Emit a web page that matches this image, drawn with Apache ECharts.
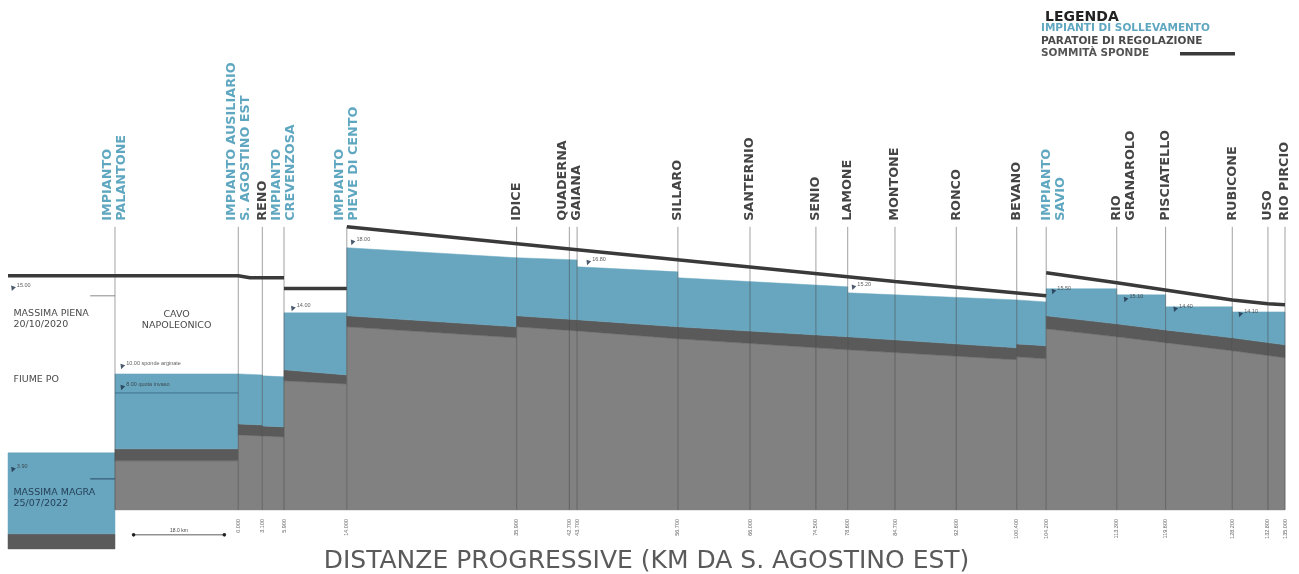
<!DOCTYPE html>
<html>
<head>
<meta charset="utf-8">
<script src="https://cdn.jsdelivr.net/npm/echarts@6/dist/echarts.min.js"></script>
<style>
  html, body { margin: 0; padding: 0; background: #fff; }
  #chart { width: 1299px; height: 574px; }
</style>
</head>
<body>
<div id="chart"></div>
<script>
// tratti del profilo (km progressivi, quote in m)
const segStart    = [-29.7, -15.9, 0, 3.1, 5.9, 14.0, 35.9, 43.7, 56.7, 78.6, 100.4, 104.2, 113.3, 119.6, 128.2];
const segEnd      = [-15.9, 0, 3.1, 5.9, 14.0, 35.9, 43.7, 56.7, 78.6, 100.4, 104.2, 113.3, 119.6, 128.2, 135.0];
const waterStart  = [5.48, 10.29, 10.29, 10.17, 14.01, 17.98, 17.37, 16.82, 16.15, 15.23, 14.80, 15.48, 15.11, 14.38, 14.07];
const waterEnd    = [5.48, 10.29, 10.23, 10.11, 14.01, 17.37, 17.24, 16.51, 15.60, 14.80, 14.68, 15.48, 15.11, 14.38, 14.07];
const bedTopStart = [0.54, 5.72, 7.24, 7.12, 10.54, 13.83, 13.83, 13.59, 13.16, 12.55, 12.12, 13.83, 13.34, 12.97, 12.49];
const bedTopEnd   = [0.54, 5.72, 7.18, 7.06, 10.23, 13.16, 13.59, 13.16, 12.55, 11.88, 12.00, 13.34, 12.97, 12.49, 12.06];
const bedBotStart = [-0.38, 4.99, 6.57, 6.51, 9.87, 13.16, 13.16, 12.91, 12.43, 11.76, 11.33, 13.04, 12.55, 12.19, 11.70];
const bedBotEnd   = [-0.38, 4.99, 6.51, 6.45, 9.68, 12.49, 12.91, 12.43, 11.76, 11.15, 11.21, 12.55, 12.19, 11.70, 11.27];
const GROUND = 2.0;

// sommità sponde (null = interruzione)
const bankKm    = [-29.7, 0, 1.5, 5.9, null, 5.9, 14.0, null, 14.0, 84.7, 84.7, 104.2, null, 104.2, 113.3, 128.2, 132.8, 135.0];
const bankLevel = [16.27, 16.27, 16.15, 16.15, null, 15.5, 15.5, null, 19.26, 15.92, 15.80, 15.05, null, 16.45, 15.84, 14.80, 14.57, 14.50];

// impianti e corsi d'acqua
const stationName = ['IMPIANTO\nPALANTONE', 'IMPIANTO AUSILIARIO\nS. AGOSTINO EST', 'RENO', 'IMPIANTO\nCREVENZOSA', 'IMPIANTO\nPIEVE DI CENTO',
  'IDICE', 'QUADERNA\nGAIANA', '', 'SILLARO', 'SANTERNIO', 'SENIO', 'LAMONE', 'MONTONE', 'RONCO', 'BEVANO',
  'IMPIANTO\nSAVIO', 'RIO\nGRANAROLO', 'PISCIATELLO', 'RUBICONE', 'USO', 'RIO PIRCIO'];
const stationKm = [-15.9, 0, 3.1, 5.9, 14.0, 35.9, 42.7, 43.7, 56.7, 66.0, 74.5, 78.6, 84.7, 92.6, 100.4, 104.2, 113.3, 119.6, 128.2, 132.8, 135.0];
const stationType = ['I', 'I', 'P', 'I', 'I', 'P', 'P', 'P', 'P', 'P', 'P', 'P', 'P', 'P', 'P', 'I', 'P', 'P', 'P', 'P', 'P'];

// quote indicate
const markKm    = [-29.1, -29.1, -15.0, -15.0, 7.0, 14.7, 45.1, 79.3, 105.1, 114.4, 120.8, 129.2];
const markLevel = [15.48, 4.44, 10.72, 9.44, 14.25, 18.28, 17.06, 15.54, 15.29, 14.80, 14.20, 13.89];
const markText  = ['15.00', '3.90', '10.00 sponde arginate', '8.00 quota invaso', '14.00', '18.00', '16.80', '15.20', '15.50', '15.10', '14.40', '14.10'];

// livelli Po e Cavo
const levelFrom  = [-19.1, -19.1, -15.9];
const levelTo    = [-15.9, -15.9, 0];
const levelValue = [15.05, 3.89, 9.13];

const noteText  = ['MASSIMA PIENA\n20/10/2020', 'FIUME PO', 'MASSIMA MAGRA\n25/07/2022', 'CAVO\nNAPOLEONICO'];
const noteKm    = [-29.0, -29.0, -29.0, -7.95];
const noteLevel = [13.65, 9.93, 2.73, 13.59];

const cavoArrow = [-13.5, -1.8];
const cavoArrowLevel = 0.48;
const cavoArrowText = '18.0 km';

const BLUE = '#68a6bf', DARK = '#5a5a5a', GRAY = '#818181', BANK = '#3a3a3a';
const BLUE_TXT = '#5fa7c0', DARK_TXT = '#444';
const LABEL_FONT = 'DejaVu Sans';
const LABEL_LEVEL = 19.62;

const chart = echarts.init(document.getElementById('chart'));

function renderSeg(params, api) {
  const i = params.dataIndex;
  const x0 = segStart[i], x1 = segEnd[i];
  const poly = (a0, a1, b0, b1, color) => ({
    type: 'polygon',
    shape: { points: [api.coord([x0, a0]), api.coord([x1, a1]), api.coord([x1, b1]), api.coord([x0, b0])] },
    style: { fill: color, stroke: color, lineWidth: 0.5 }
  });
  const children = [];
  if (bedBotStart[i] > GROUND) children.push(poly(bedBotStart[i], bedBotEnd[i], GROUND, GROUND, GRAY));
  children.push(poly(bedTopStart[i], bedTopEnd[i], bedBotStart[i], bedBotEnd[i], DARK));
  children.push(poly(waterStart[i], waterEnd[i], bedTopStart[i], bedTopEnd[i], BLUE));
  return { type: 'group', children };
}

function stationSeries(type, name, color) {
  const idx = stationKm.map((k, i) => i).filter(i => stationType[i] === type);
  return {
    name: name,
    type: 'custom',
    z: 3,
    itemStyle: { color: color },
    data: idx.map(i => [stationKm[i], LABEL_LEVEL]),
    renderItem: function (params, api) {
      const s = idx[params.dataIndex];
      const top = api.coord([api.value(0), api.value(1)]);
      const bottom = api.coord([api.value(0), GROUND]);
      // a destra del Savio la prima riga sta sulla linea
      const firstOnLine = stationKm[s] > 100 && stationName[s].indexOf('\n') > 0;
      return {
        type: 'group',
        children: [
          { type: 'line', shape: { x1: top[0], y1: top[1] + 6, x2: bottom[0], y2: bottom[1] },
            style: { stroke: 'rgba(70,70,70,0.5)', lineWidth: 1 } },
          { type: 'text', x: top[0], y: top[1], rotation: Math.PI / 2,
            style: { text: stationName[s], x: 0, y: firstOnLine ? -7 : 0, align: 'left',
              verticalAlign: firstOnLine ? 'top' : 'middle',
              fill: color, fontSize: 12.8, fontWeight: 'bold', fontFamily: LABEL_FONT, lineHeight: 14 } }
        ]
      };
    }
  };
}

chart.setOption({
  animation: false,
  title: {
    text: 'LEGENDA', left: 1040, top: 5,
    textStyle: { fontSize: 14, fontWeight: 'bold', color: '#222', fontFamily: 'DejaVu Sans' }
  },
  graphic: [
    { type: 'text', left: 1041, top: 23, style: { text: 'IMPIANTI DI SOLLEVAMENTO', fill: BLUE_TXT, fontSize: 10.5, fontWeight: 'bold', fontFamily: 'DejaVu Sans' } },
    { type: 'text', left: 1041, top: 35.5, style: { text: 'PARATOIE DI REGOLAZIONE', fill: '#4a4a4a', fontSize: 10.5, fontWeight: 'bold', fontFamily: 'DejaVu Sans' } },
    { type: 'text', left: 1041, top: 48, style: { text: 'SOMMITÀ SPONDE', fill: '#555', fontSize: 10.5, fontWeight: 'bold', fontFamily: 'DejaVu Sans' } },
    { type: 'rect', left: 1180, top: 52, shape: { width: 55, height: 3.5 }, style: { fill: BANK } }
  ],
  grid: { left: 8, right: 14, top: 190, bottom: 60, outerBoundsMode: 'none' },
  xAxis: {
    type: 'value', min: -29.7, max: 135,
    name: 'DISTANZE PROGRESSIVE (KM DA S. AGOSTINO EST)',
    nameLocation: 'middle', nameGap: 35,
    nameTextStyle: { fontSize: 25, color: '#5a5a5a', fontFamily: 'DejaVu Sans' },
    axisLine: { show: false }, axisTick: { show: false }, splitLine: { show: false },
    axisLabel: {
      customValues: stationKm.filter(k => k >= 0),
      rotate: 90, margin: 5, fontSize: 5.5, color: '#666',
      formatter: v => v.toFixed(3)
    }
  },
  yAxis: { type: 'value', min: 1.75, max: 21.5, show: false },
  series: [
    {
      type: 'custom', name: 'profilo', z: 1, clip: false,
      data: segStart.map((s, i) => [s, segEnd[i], waterStart[i]]),
      encode: { x: [0, 1], y: 2 },
      renderItem: renderSeg
    },
    {
      type: 'custom', name: 'livelli', z: 2, clip: false,
      data: levelValue.map((v, i) => [levelFrom[i], levelTo[i], v]),
      encode: { x: [0, 1], y: 2 },
      renderItem: function (params, api) {
        const a = api.coord([api.value(0), api.value(2)]);
        const b = api.coord([api.value(1), api.value(2)]);
        const cols = ['#8a8a8a', '#2b4a66', '#3b738c'];
        return { type: 'line', shape: { x1: a[0], y1: a[1], x2: b[0], y2: b[1] },
          style: { stroke: cols[params.dataIndex], lineWidth: 1 } };
      }
    },
    stationSeries('I', 'IMPIANTI DI SOLLEVAMENTO', BLUE_TXT),
    stationSeries('P', 'PARATOIE DI REGOLAZIONE', DARK_TXT),
    {
      type: 'line', name: 'SOMMITÀ SPONDE', z: 5,
      color: BANK,
      data: bankKm.map((k, i) => bankLevel[i] === null ? ['-', '-'] : [k, bankLevel[i]]),
      showSymbol: false, connectNulls: false,
      lineStyle: { width: 3.5, color: BANK }
    },
    {
      type: 'scatter', name: 'quote', z: 6,
      data: markKm.map((k, i) => [k, markLevel[i], markText[i]]),
      symbol: 'triangle', symbolSize: 5, symbolRotate: 160,
      itemStyle: { color: '#1e3147' },
      label: { show: true, position: 'right', distance: 1, offset: [0, -3],
        formatter: p => p.data[2], fontSize: 5.5, color: '#333' }
    },
    {
      type: 'custom', name: 'note', z: 6, clip: false,
      data: noteKm.map((k, i) => [k, noteLevel[i]]),
      renderItem: function (params, api) {
        const i = params.dataIndex;
        const p = api.coord([api.value(0), api.value(1)]);
        return { type: 'text', x: p[0], y: p[1],
          style: { text: noteText[i], align: i === 3 ? 'center' : 'left', verticalAlign: 'middle',
            fill: i === 2 ? '#26415a' : '#4a4a4a', fontSize: 9.5, fontFamily: 'DejaVu Sans', lineHeight: 11 } };
      }
    },
    {
      type: 'custom', name: 'cavo', z: 6, clip: false,
      data: [[cavoArrow[0], cavoArrow[1], cavoArrowLevel]],
      encode: { x: [0, 1], y: 2 },
      renderItem: function (params, api) {
        const a = api.coord([api.value(0), api.value(2)]);
        const b = api.coord([api.value(1), api.value(2)]);
        return { type: 'group', children: [
          { type: 'line', shape: { x1: a[0], y1: a[1], x2: b[0], y2: b[1] }, style: { stroke: '#333', lineWidth: 0.8 } },
          { type: 'circle', shape: { cx: a[0], cy: a[1], r: 1.8 }, style: { fill: '#222' } },
          { type: 'circle', shape: { cx: b[0], cy: b[1], r: 1.8 }, style: { fill: '#222' } },
          { type: 'text', x: (a[0] + b[0]) / 2, y: a[1] - 2,
            style: { text: cavoArrowText, align: 'center', verticalAlign: 'bottom', fill: '#444', fontSize: 5 } }
        ] };
      }
    }
  ]
});
</script>
</body>
</html>
